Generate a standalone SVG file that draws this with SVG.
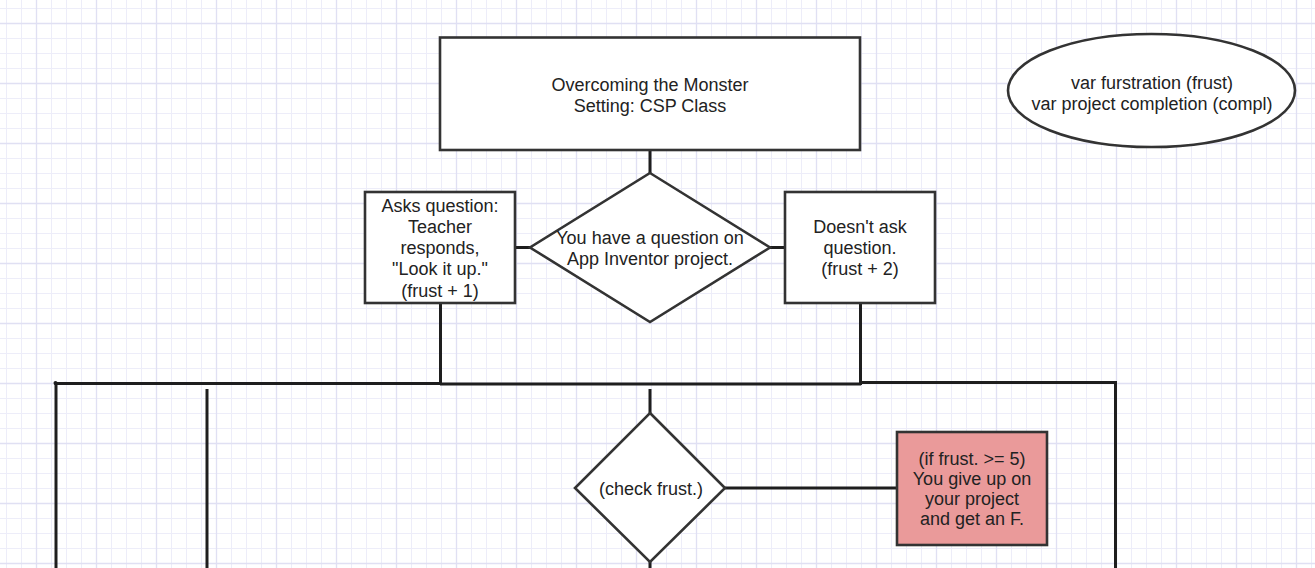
<svg xmlns="http://www.w3.org/2000/svg" width="1315" height="568" viewBox="0 0 1315 568">
<style>
.node{fill:#ffffff;stroke:#333333;stroke-width:2.6}
.pink{fill:#ea9a9a;stroke:#333333;stroke-width:2.6}
.wire{fill:none;stroke:#1e1e1e;stroke-width:3;stroke-linecap:butt}
text{font-family:"Liberation Sans",Arial,sans-serif;font-size:18px;fill:#222222;text-anchor:middle}
.gmin{stroke:#ededf9;stroke-width:1}
.gmaj{stroke:#e0e0f3;stroke-width:1.3}
</style>
<defs>
<pattern id="grid" x="6" y="8" width="60" height="60" patternUnits="userSpaceOnUse">
<rect width="60" height="60" fill="#ffffff"/>
<line class="gmin" x1="0.5" y1="0" x2="0.5" y2="60"/>
<line class="gmin" x1="15.5" y1="0" x2="15.5" y2="60"/>
<line class="gmin" x1="45.5" y1="0" x2="45.5" y2="60"/>
<line class="gmin" x1="0" y1="0.5" x2="60" y2="0.5"/>
<line class="gmin" x1="0" y1="30.5" x2="60" y2="30.5"/>
<line class="gmin" x1="0" y1="45.5" x2="60" y2="45.5"/>
<line class="gmaj" x1="30.5" y1="0" x2="30.5" y2="60"/>
<line class="gmaj" x1="0" y1="15.5" x2="60" y2="15.5"/>
</pattern>
</defs>
<rect width="1315" height="568" fill="url(#grid)"/>

<g id="connectors">
<line class="wire" x1="650" y1="150" x2="650" y2="173"/>
<line class="wire" x1="515" y1="247.5" x2="530" y2="247.5"/>
<line class="wire" x1="770" y1="247.5" x2="785" y2="247.5"/>
<line class="wire" x1="440.5" y1="303" x2="440.5" y2="385"/>
<line class="wire" x1="860.5" y1="303" x2="860.5" y2="385"/>
<line class="wire" x1="54.5" y1="383.5" x2="441" y2="383.5"/>
<line class="wire" x1="440" y1="384" x2="861" y2="384"/>
<line class="wire" x1="859" y1="382.5" x2="1117" y2="382.5"/>
<line class="wire" x1="56" y1="382" x2="56" y2="568"/>
<line class="wire" x1="1115.5" y1="381" x2="1115.5" y2="568"/>
<line class="wire" x1="207" y1="389" x2="207" y2="568"/>
<line class="wire" x1="650" y1="389" x2="650" y2="413"/>
<line class="wire" x1="725" y1="488" x2="897" y2="488"/>
<line class="wire" x1="650" y1="561" x2="650" y2="568"/>
<circle cx="55.5" cy="383" r="2" fill="#1e1e1e"/>
</g>

<g id="title">
<rect class="node" x="440" y="37.5" width="420" height="112.5"/>
<text x="650" y="90.5">Overcoming the Monster</text>
<text x="650" y="111.5">Setting: CSP Class</text>
</g>

<g id="vars">
<ellipse class="node" cx="1151.5" cy="90.5" rx="143.5" ry="56.5"/>
<text x="1152" y="89">var furstration (frust)</text>
<text x="1152" y="109.5">var project completion (compl)</text>
</g>

<g id="question">
<polygon class="node" points="650,173 770,247.5 650,322 530,247.5"/>
<text x="650" y="243.5">You have a question on</text>
<text x="650" y="264.5">App Inventor project.</text>
</g>

<g id="asks">
<rect class="node" x="365" y="192" width="150" height="111"/>
<text x="440" y="211.5">Asks question:</text>
<text x="440" y="232.5">Teacher</text>
<text x="440" y="254">responds,</text>
<text x="440" y="275">"Look it up."</text>
<text x="440" y="296.5">(frust + 1)</text>
</g>

<g id="doesnt">
<rect class="node" x="785" y="192" width="150" height="111"/>
<text x="860" y="233">Doesn't ask</text>
<text x="860" y="254">question.</text>
<text x="860" y="275">(frust + 2)</text>
</g>

<g id="check">
<polygon class="node" points="650,413 725,488 650,562 575,488"/>
<text x="651" y="494.5">(check frust.)</text>
</g>

<g id="giveup">
<rect class="pink" x="897" y="432" width="150" height="113"/>
<text x="972" y="464.5">(if frust. &gt;= 5)</text>
<text x="972" y="484.5">You give up on</text>
<text x="972" y="504.5">your project</text>
<text x="972" y="525">and get an F.</text>
</g>
</svg>
